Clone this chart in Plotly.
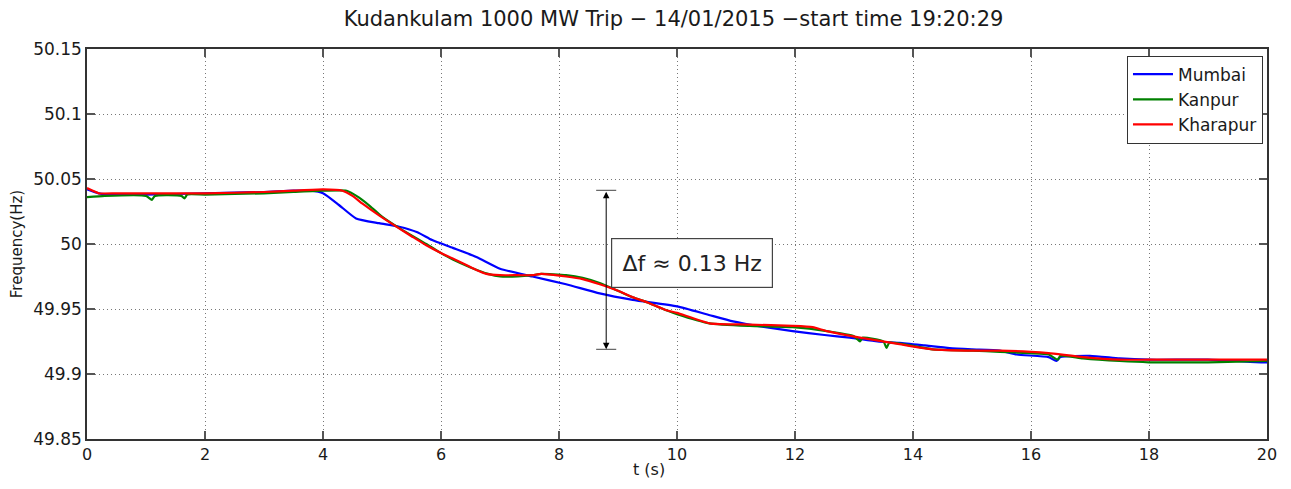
import plotly.graph_objects as go

# ---- data ----
t_mumbai = [0, 0.2, 0.5, 1, 2, 3, 3.5, 3.8, 4.0, 4.27, 4.56, 4.95, 5.29, 5.6, 5.85, 6.2, 6.6,
            7.0, 7.55, 8.12, 8.69, 9.25, 10.0, 10.5, 10.95, 11.5, 11.96, 12.5, 12.93, 13.4,
            13.77, 14.2, 14.62, 15.0, 15.47, 15.76, 16.3, 16.43, 16.5, 17.0, 17.5, 18.0, 19.0, 19.9, 20]
f_mumbai = [50.042, 50.039, 50.038, 50.038, 50.039, 50.040, 50.041, 50.041, 50.039, 50.030,
            50.0197, 50.016, 50.0133, 50.009, 50.003, 49.997, 49.990, 49.981, 49.975, 49.969,
            49.962, 49.957, 49.952, 49.946, 49.9405, 49.936, 49.933, 49.930, 49.928, 49.925,
            49.924, 49.922, 49.920, 49.919, 49.918, 49.915, 49.913, 49.910, 49.913, 49.914,
            49.912, 49.911, 49.911, 49.909, 49.909]

t_kanpur = [0, 0.3, 1.0, 1.1, 1.15, 1.6, 1.65, 1.7, 2, 3, 3.5, 4, 4.4, 4.6, 4.8, 5.0, 5.3,
            5.75, 6.0, 6.2, 6.5, 6.8, 7.0, 7.3, 7.55, 7.7, 8.12, 8.4, 8.69, 9.0, 9.25, 9.5,
            9.82, 10.0, 10.55, 11.23, 11.96, 12.54, 13.0, 13.1, 13.15, 13.5, 13.55, 13.6,
            14.33, 15, 15.47, 16.0, 16.3, 16.45, 16.5, 16.88, 17.5, 18, 19, 20]
f_kanpur = [50.036, 50.037, 50.037, 50.034, 50.037, 50.037, 50.035, 50.038, 50.038, 50.039,
            50.040, 50.041, 50.041, 50.036, 50.029, 50.021, 50.012, 50.000, 49.993, 49.988,
            49.982, 49.977, 49.975, 49.975, 49.976, 49.977, 49.976, 49.974, 49.970, 49.964,
            49.959, 49.955, 49.949, 49.946, 49.939, 49.937, 49.936, 49.933, 49.929, 49.925,
            49.928, 49.925, 49.920, 49.924, 49.919, 49.918, 49.917, 49.916, 49.915, 49.911,
            49.914, 49.912, 49.910, 49.909, 49.909, 49.910]

t_kharapur = [0, 0.2, 0.5, 1, 2, 3, 3.5, 4.0, 4.33, 4.5, 4.67, 4.95, 5.29, 5.5, 5.75, 6.0,
              6.19, 6.42, 6.6, 6.77, 7.0, 7.3, 7.55, 7.7, 8.12, 8.4, 8.69, 9.0, 9.25, 9.5,
              9.82, 10.0, 10.55, 11.23, 11.96, 12.3, 12.54, 13.1, 13.77, 14.33, 15.0, 15.47,
              16.0, 16.3, 16.88, 17.5, 18.0, 19.0, 19.9, 20]
f_kharapur = [50.043, 50.039, 50.039, 50.039, 50.039, 50.040, 50.041, 50.042, 50.041, 50.037,
              50.031, 50.022, 50.012, 50.006, 49.999, 49.993, 49.989, 49.984, 49.980, 49.977,
              49.976, 49.976, 49.976, 49.977, 49.975, 49.973, 49.969, 49.964, 49.959, 49.955,
              49.949, 49.947, 49.939, 49.938, 49.937, 49.936, 49.933, 49.928, 49.923, 49.919,
              49.918, 49.918, 49.917, 49.916, 49.913, 49.911, 49.911, 49.911, 49.911, 49.911]

x_ticks = [0, 2, 4, 6, 8, 10, 12, 14, 16, 18, 20]
y_ticks = [49.85, 49.9, 49.95, 50, 50.05, 50.1, 50.15]
y_ticklabels = ["49.85", "49.9", "49.95", "50", "50.05", "50.1", "50.15"]

# annotation values
delta_t = 8.8
delta_top = 50.0413
delta_bottom = 49.919
delta_label = "Δf ≈ 0.13 Hz"
label_t = 10.246
label_f = 49.9855

FONT = "DejaVu Sans, Liberation Sans, Arial, sans-serif"

fig = go.Figure()
line_style = dict(width=2.2, shape="spline", smoothing=0.5)
fig.add_trace(go.Scatter(x=t_mumbai, y=f_mumbai, mode="lines", name="Mumbai",
                         line=dict(color="#0000ff", **line_style)))
fig.add_trace(go.Scatter(x=t_kanpur, y=f_kanpur, mode="lines", name="Kanpur",
                         line=dict(color="#008000", **line_style)))
fig.add_trace(go.Scatter(x=t_kharapur, y=f_kharapur, mode="lines", name="Kharapur",
                         line=dict(color="#ff0000", **line_style)))

# double arrow
fig.add_annotation(x=delta_t, y=delta_bottom, ax=delta_t, ay=delta_top,
                   xref="x", yref="y", axref="x", ayref="y", text="",
                   showarrow=True, arrowhead=2, startarrowhead=2, arrowside="end+start",
                   arrowsize=1.3, arrowwidth=1, arrowcolor="black")
cap = 0.17
for yy in (delta_top, delta_bottom):
    fig.add_shape(type="line", x0=delta_t - cap, x1=delta_t + cap, y0=yy, y1=yy,
                  xref="x", yref="y", line=dict(color="#444", width=1))

fig.add_annotation(x=label_t, y=label_f, xref="x", yref="y", text=delta_label,
                   showarrow=False, font=dict(family=FONT, size=22, color="#222"),
                   width=152, height=40, borderpad=4,
                   bordercolor="#444", borderwidth=1.2, bgcolor="white")

# x-axis title as an annotation placed below the tick labels (as in the reference, slightly left of centre)
fig.add_annotation(x=0.4763, y=-0.108, xref="paper", yref="paper", text="t (s)",
                   showarrow=False, xanchor="center", yanchor="bottom",
                   font=dict(family=FONT, size=16, color="#1a1a1a"))

axis_common = dict(showline=True, linecolor="#333", linewidth=1.5, mirror="ticks",
                   ticks="inside", ticklen=8, tickcolor="#555", tickwidth=1.5,
                   showgrid=True, gridcolor="#777", griddash="1px,3px", gridwidth=1,
                   zeroline=False, automargin=False)

fig.update_layout(
    width=1275, height=473,
    margin=dict(l=79, r=16, t=41, b=42),
    paper_bgcolor="white", plot_bgcolor="white",
    title=dict(text="Kudankulam 1000 MW Trip − 14/01/2015 −start time 19:20:29",
               x=0.522, xanchor="center", y=0.977, yanchor="middle",
               font=dict(family=FONT, size=21, color="#1a1a1a")),
    xaxis=dict(range=[0, 20], tickvals=x_ticks,
               tickfont=dict(family=FONT, size=16, color="#1a1a1a"),
               **axis_common),
    yaxis=dict(range=[49.85, 50.15], tickvals=y_ticks, ticktext=y_ticklabels,
               tickfont=dict(family=FONT, size=17, color="#1a1a1a"),
               title=dict(text="Frequency(Hz)", font=dict(family=FONT, size=15, color="#1a1a1a"), standoff=8),
               **axis_common),
    legend=dict(x=0.9966, y=0.983, xanchor="right", yanchor="top",
                bordercolor="#333", borderwidth=1, bgcolor="white",
                font=dict(family=FONT, size=17, color="#1a1a1a"),
                tracegroupgap=0, itemwidth=40),
    showlegend=True,
)

fig.write_html("out.html")
